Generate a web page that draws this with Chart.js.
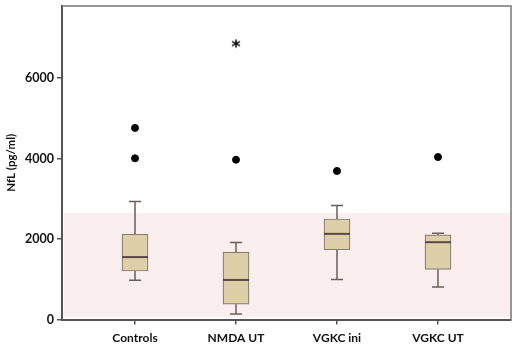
<!DOCTYPE html>
<html><head><meta charset="utf-8">
<script src="https://cdn.jsdelivr.net/npm/chart.js@4/dist/chart.umd.min.js"></script>
<style>html,body{margin:0;padding:0;background:#fff}#wrap{width:517px;height:348px}</style>
</head><body><div id="wrap"><canvas id="c" width="517" height="348"></canvas></div>
<script>
const categories = ['Controls', 'NMDA UT', 'VGKC ini', 'VGKC UT'];
const whiskerLow = [975, 136, 992, 810];
const q1 = [1205, 383, 1733, 1247];
const median = [1551, 983, 2128, 1921];
const q3 = [2119, 1675, 2498, 2103];
const whiskerHigh = [2933, 1914, 2835, 2143];
const outliers = [[4005, 4761], [3970], [3691], [4037]];
const extremes = [[], [6860], [], []];
const referenceUpper = 2650;
const referenceLower = 60;
const yTicks = [0, 2000, 4000, 6000];

const positions = categories.map((_, i) => i + 1);
const boxData = positions.map((x, i) => ({x: x, y: [q1[i], q3[i]]}));
const outlierData = [];
outliers.forEach((arr, i) => arr.forEach(v => outlierData.push({x: positions[i], y: v})));
const extremeData = [];
extremes.forEach((arr, i) => arr.forEach(v => extremeData.push({x: positions[i], y: v})));

const FONT = 'Lato, "Open Sans", sans-serif';

const star = document.createElement('canvas');
star.width = 14; star.height = 14;
(function () {
  const c = star.getContext('2d');
  c.fillStyle = '#000';
  c.font = 'bold 18px "DejaVu Sans", sans-serif';
  c.textAlign = 'center';
  c.textBaseline = 'middle';
  c.fillText('*', 7, 11);
})();

const bgPlugin = {
  id: 'bg',
  beforeDatasetsDraw(chart) {
    const {ctx, chartArea: a, scales: {y}} = chart;
    ctx.save();
    ctx.fillStyle = '#fbeeee';
    const top = y.getPixelForValue(referenceUpper);
    const bot = y.getPixelForValue(referenceLower);
    ctx.fillRect(a.left + 2, top, a.right - a.left - 2, bot - top);
    ctx.strokeStyle = '#6e5e58';
    ctx.lineWidth = 1.5;
    positions.forEach((p, i) => {
      const x = chart.scales.x.getPixelForValue(p);
      const yl = y.getPixelForValue(whiskerLow[i]);
      const yq1 = y.getPixelForValue(q1[i]);
      const yq3 = y.getPixelForValue(q3[i]);
      const yh = y.getPixelForValue(whiskerHigh[i]);
      ctx.beginPath();
      ctx.moveTo(x, yl); ctx.lineTo(x, yq1);
      ctx.moveTo(x, yq3); ctx.lineTo(x, yh);
      ctx.moveTo(x - 6, yl); ctx.lineTo(x + 6, yl);
      ctx.moveTo(x - 6, yh); ctx.lineTo(x + 6, yh);
      ctx.stroke();
    });
    ctx.restore();
  },
  afterDatasetsDraw(chart) {
    const {ctx, chartArea: a, scales: {x, y}} = chart;
    ctx.save();
    ctx.strokeStyle = '#5a4842';
    ctx.lineWidth = 2;
    positions.forEach((p, i) => {
      const px = x.getPixelForValue(p);
      const py = y.getPixelForValue(median[i]);
      ctx.beginPath();
      ctx.moveTo(px - 13, py); ctx.lineTo(px + 13, py);
      ctx.stroke();
    });
    ctx.strokeStyle = '#777';
    ctx.lineWidth = 1.5;
    ctx.beginPath();
    ctx.moveTo(a.left, a.top); ctx.lineTo(a.right, a.top); ctx.lineTo(a.right, a.bottom);
    ctx.stroke();
    ctx.restore();
  }
};

new Chart(document.getElementById('c'), {
  type: 'bar',
  data: {
    datasets: [
      {
        type: 'bar',
        data: boxData,
        backgroundColor: '#ddd0a8',
        borderColor: '#8a7a72',
        borderWidth: 1.2,
        borderSkipped: false,
        barThickness: 26,
        order: 2
      },
      {
        type: 'scatter',
        data: outlierData,
        pointStyle: 'circle',
        pointRadius: 3.5,
        backgroundColor: '#000',
        borderColor: '#000',
        order: 1
      },
      {
        type: 'scatter',
        data: extremeData,
        pointStyle: star,
        pointRadius: 5,
        order: 1
      }
    ]
  },
  options: {
    responsive: false,
    animation: false,
    layout: {padding: {top: 4, right: 6, left: 0, bottom: 0}},
    plugins: {legend: {display: false}, tooltip: {enabled: false}},
    scales: {
      x: {
        type: 'linear',
        min: 0.277,
        max: 4.723,
        offset: false,
        afterBuildTicks(s) { s.ticks = positions.map(v => ({value: v})); },
        afterFit(s) { s.height = 28.5; s.paddingLeft = 0; s.paddingRight = 0; },
        grid: {offset: false, drawOnChartArea: false, drawTicks: true, tickLength: 5, color: '#555', lineWidth: 1.5},
        border: {color: '#555', width: 2},
        ticks: {
          padding: 6,
          color: '#111',
          font: {family: FONT, size: 12, weight: 'bold'},
          callback: (v) => categories[v - 1] || ''
        }
      },
      y: {
        min: 0,
        max: 7790,
        afterBuildTicks(s) { s.ticks = yTicks.map(v => ({value: v})); },
        afterFit(s) { s.width = 62; s.paddingTop = 0; s.paddingBottom = 0; },
        grid: {drawOnChartArea: false, drawTicks: true, tickLength: 5, color: '#555', lineWidth: 1.5},
        border: {color: '#555', width: 2},
        title: {display: true, text: 'NfL (pg/ml)', color: '#111', font: {family: FONT, size: 11.5, weight: 'bold'}, padding: {top: 4, bottom: 4}},
        ticks: {
          padding: 3,
          color: '#111',
          font: {family: FONT, size: 12.5, weight: 'bold'},
          callback: (v) => String(v)
        }
      }
    }
  },
  plugins: [bgPlugin]
});
</script>
</body></html>
